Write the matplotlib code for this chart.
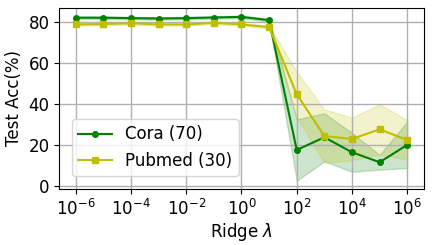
import matplotlib
import numpy as np

matplotlib.use("Agg")
import matplotlib.pyplot as plt

# ridge strengths 10^-6 .. 10^6
ridge = [1e-6, 1e-5, 1e-4, 1e-3, 1e-2, 1e-1, 1e0, 1e1, 1e2, 1e3, 1e4, 1e5, 1e6]

cora_mean = [82.0, 82.0, 81.8, 81.6, 81.8, 82.1, 82.4, 80.8, 17.4, 23.6, 16.3, 11.4, 19.9]
cora_std = [0.6, 0.6, 0.6, 0.6, 0.6, 0.6, 0.6, 0.8, 15.0, 11.7, 9.5, 3.6, 11.3]

pubmed_mean = [78.7, 78.9, 79.3, 78.7, 78.7, 79.5, 78.7, 77.4, 44.6, 24.2, 22.8, 27.5, 22.3]
pubmed_std = [0.6, 0.6, 0.6, 0.6, 0.6, 0.6, 0.6, 0.8, 11.0, 13.0, 10.4, 12.2, 9.7]

CORA = "green"
PUBMED = "#bfbf00"


def main() -> None:
    plt.rcParams["font.size"] = 12
    fig, ax = plt.subplots(figsize=(4.32, 2.45), dpi=100)

    x = np.array(ridge)
    for mean, std, color, marker, label in (
        (cora_mean, cora_std, CORA, "o", "Cora (70)"),
        (pubmed_mean, pubmed_std, PUBMED, "s", "Pubmed (30)"),
    ):
        m = np.array(mean)
        s = np.array(std)
        ax.plot(x, m, color=color, marker=marker, markersize=4,
                linewidth=1.5, label=label)
        ax.fill_between(x, m - s, m + s, color=color, alpha=0.2)

    ax.set_xscale("log")
    ax.set_xticks([1e-6, 1e-4, 1e-2, 1e0, 1e2, 1e4, 1e6])
    ax.minorticks_off()
    ax.set_ylim(-1.6, 86.7)
    ax.set_yticks([0, 20, 40, 60, 80])
    ax.set_xlabel(r"Ridge $\lambda$", labelpad=2)
    ax.set_ylabel("Test Acc(%)")
    ax.grid(True, color="#b0b0b0", linewidth=1.0)
    ax.legend(loc="lower left", borderaxespad=0.75)

    fig.subplots_adjust(left=0.137, right=0.981, top=0.967, bottom=0.229)
    fig.savefig("out.png", dpi=100)


if __name__ == "__main__":
    main()
